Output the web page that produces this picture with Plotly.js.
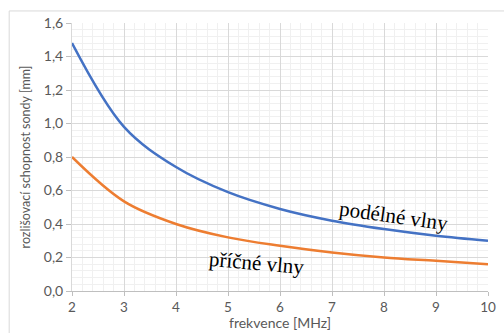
<!DOCTYPE html>
<html>
<head>
<meta charset="utf-8">
<script src="https://cdn.plot.ly/plotly-3.0.1.min.js"></script>
<style>
html,body{margin:0;padding:0;background:#fff;}
#chart{width:504px;height:333px;}
</style>
</head>
<body>
<div id="chart"></div>
<script>
const freq = [2, 3, 4, 5, 6, 7, 8, 9, 10];
const podelne = [1.48, 0.98, 0.74, 0.59, 0.49, 0.42, 0.37, 0.33, 0.30];
const pricne = [0.80, 0.535, 0.40, 0.32, 0.27, 0.23, 0.20, 0.18, 0.16];
const yTicks = [0, 0.2, 0.4, 0.6, 0.8, 1.0, 1.2, 1.4, 1.6];
const xTicks = [2, 3, 4, 5, 6, 7, 8, 9, 10];
const labelPodelne = "podélné vlny";
const labelPricne = "příčné vlny";
const xTitle = "frekvence [MHz]";
const yTitle = "rozlišovací schopnost sondy [mm]";

const font = "Lato, 'Open Sans', sans-serif";
const serif = "'Liberation Serif', 'DejaVu Serif', serif";
const traces = [
  {x: freq, y: podelne, mode: 'lines', line: {color: '#4472C4', width: 2.5, shape: 'spline', smoothing: 1}, name: labelPodelne, hoverinfo: 'none'},
  {x: freq, y: pricne, mode: 'lines', line: {color: '#ED7D31', width: 2.5, shape: 'spline', smoothing: 1}, name: labelPricne, hoverinfo: 'none'}
];
const layout = {
  width: 504, height: 333,
  margin: {l: 72, r: 16, t: 23, b: 42, pad: 0},
  paper_bgcolor: '#fff', plot_bgcolor: '#fff',
  showlegend: false,
  separators: ', ',
  font: {family: font, color: '#595959', size: 13},
  xaxis: {
    range: [2, 10], tickvals: xTicks, ticktext: xTicks.map(String),
    showgrid: true, gridcolor: '#d9d9d9', gridwidth: 1,
    minor: {dtick: 0.2, showgrid: true, gridcolor: '#f0f0f0', gridwidth: 1},
    showline: true, linecolor: '#bfbfbf', linewidth: 1,
    ticks: 'outside', ticklen: 4, tickcolor: '#bfbfbf',
    zeroline: false, fixedrange: true,
    tickfont: {size: 13.5, color: '#595959'}
  },
  yaxis: {
    range: [0, 1.6], tickvals: yTicks, tickformat: '.1f',
    showgrid: true, gridcolor: '#d9d9d9', gridwidth: 1,
    minor: {dtick: 0.04, showgrid: true, gridcolor: '#f0f0f0', gridwidth: 1},
    showline: true, linecolor: '#d9d9d9', linewidth: 1,
    ticks: 'outside', ticklen: 5, tickcolor: '#bfbfbf',
    zeroline: false, fixedrange: true,
    tickfont: {size: 14, color: '#595959'},
    title: {text: yTitle, font: {size: 12.5, color: '#595959'}, standoff: 10}
  },
  shapes: [
    {type: 'rect', xref: 'paper', yref: 'paper', x0: -0.151, x1: 1.2, y0: -0.3, y1: 1.045,
     line: {color: '#d9d9d9', width: 1}, fillcolor: 'rgba(0,0,0,0)', layer: 'below'}
  ],
  annotations: [
    {x: 0.5, y: -0.1585, xref: 'paper', yref: 'paper', xanchor: 'center', yanchor: 'bottom',
     text: xTitle, showarrow: false, font: {family: font, size: 14, color: '#595959'}},
    {x: 8.2, y: 0.447, xref: 'x', yref: 'y', text: labelPodelne, showarrow: false, textangle: 8,
     font: {family: serif, size: 21, color: '#000'}},
    {x: 5.55, y: 0.167, xref: 'x', yref: 'y', text: labelPricne, showarrow: false, textangle: 5,
     font: {family: serif, size: 21, color: '#000'}}
  ]
};
Plotly.newPlot('chart', traces, layout, {staticPlot: true, displayModeBar: false});
</script>
</body>
</html>
